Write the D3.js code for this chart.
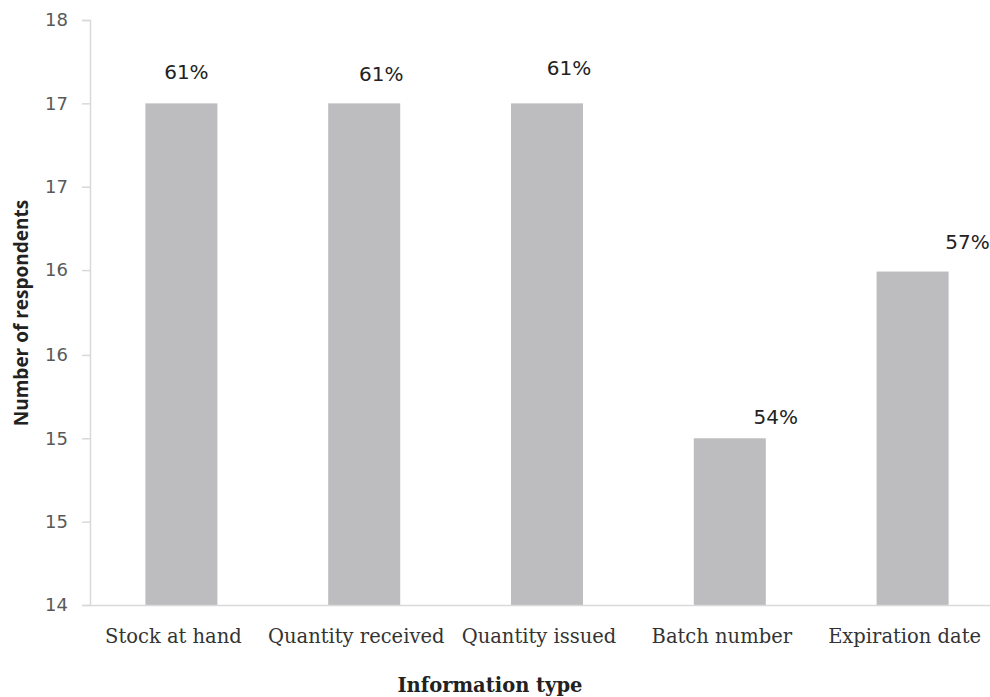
<!DOCTYPE html>
<html>
<head>
<meta charset="utf-8">
<script src="https://cdn.jsdelivr.net/npm/d3@7"></script>
<style>
  html, body { margin: 0; padding: 0; background: #fff; }
  svg { display: block; }
</style>
</head>
<body>
<svg id="chart" width="990" height="697"></svg>
<script>
// ---- data ----
const categories = ["Stock at hand", "Quantity received", "Quantity issued", "Batch number", "Expiration date"];
const values = [17.43, 17.43, 17.43, 15.14, 16.28];
const percentLabels = ["61%", "61%", "61%", "54%", "57%"];
const yTickValues = [14, 14.57, 15.14, 15.71, 16.29, 16.86, 17.43, 18];
const yTickLabels = ["14", "15", "15", "16", "16", "17", "17", "18"];
const yTitle = "Number of respondents";
const xTitle = "Information type";

// ---- layout (not data) ----
const labelNudge = [[5, -24], [17, -22], [22, -28], [46, -14], [55, -23]];
const catLabelShift = -8;

const svg = d3.select("#chart");
const x = d3.scaleBand().domain(categories).range([90, 1004]).paddingInner(0.606).paddingOuter(0.303);
const y = d3.scaleLinear().domain([14, 18]).range([605, 20]);

// bars
svg.append("g").selectAll("rect").data(values).join("rect")
  .attr("x", (d, i) => x(categories[i]))
  .attr("width", x.bandwidth())
  .attr("y", d => y(d))
  .attr("height", d => y(14) - y(d))
  .attr("fill", "#bdbdc0");

// y axis
const yAxis = d3.axisLeft(y).tickValues(yTickValues).tickFormat((d, i) => yTickLabels[i]).tickSize(8).tickPadding(14);
const gy = svg.append("g").attr("transform", "translate(90,0)").call(yAxis);
gy.select(".domain").attr("stroke", "#d9d9d9").attr("stroke-width", 1.5);
gy.selectAll(".tick line").attr("stroke", "#d9d9d9").attr("stroke-width", 1.5);
gy.selectAll(".tick text").attr("fill", "#595959").style("font-family", "'DejaVu Sans', sans-serif").style("font-size", "18px");

// x axis
const xAxis = d3.axisBottom(x).tickSize(0).tickPadding(28);
const gx = svg.append("g").attr("transform", "translate(0,605)").call(xAxis);
gx.select(".domain").attr("stroke", "#d9d9d9").attr("stroke-width", 1.5);
gx.selectAll(".tick text").attr("fill", "#333").attr("dx", catLabelShift).attr("dy", "0.5em")
  .style("font-family", "'DejaVu Serif', serif").style("font-size", "19.5px");

// percent labels
svg.append("g").selectAll("text").data(percentLabels).join("text")
  .attr("x", (d, i) => x(categories[i]) + x.bandwidth() / 2 + labelNudge[i][0])
  .attr("y", (d, i) => y(values[i]) + labelNudge[i][1])
  .attr("text-anchor", "middle")
  .attr("fill", "#222")
  .style("font-family", "'DejaVu Sans', sans-serif")
  .style("font-size", "20px")
  .text(d => d);

// axis titles
svg.append("text")
  .attr("transform", "translate(28,313) rotate(-90)")
  .attr("text-anchor", "middle")
  .attr("fill", "#222")
  .style("font-family", "'Open Sans', sans-serif")
  .style("font-weight", "bold")
  .style("font-size", "19px")
  .text(yTitle);

svg.append("text")
  .attr("x", 490).attr("y", 692)
  .attr("text-anchor", "middle")
  .attr("fill", "#222")
  .style("font-family", "'DejaVu Serif', serif")
  .style("font-weight", "bold")
  .style("font-size", "19.5px")
  .text(xTitle);
</script>
</body>
</html>
